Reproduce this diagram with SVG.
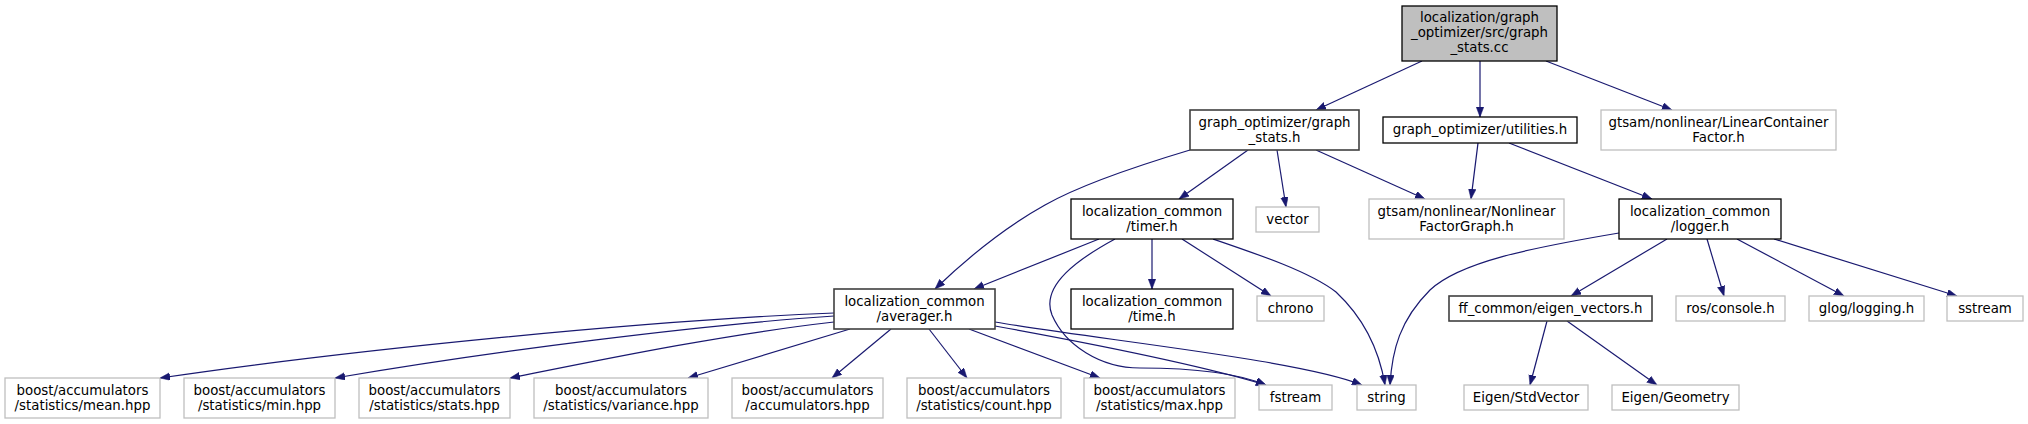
<svg xmlns="http://www.w3.org/2000/svg" width="2028" height="424" viewBox="0 0 2028 424">
<style>
text{font-family:"DejaVu Sans","Liberation Sans",sans-serif;font-size:13.33px;fill:#000;text-anchor:middle}
.n rect{fill:#fff;stroke:#000;stroke-width:1.3}
.n.d rect{stroke:#404040;stroke-width:1.6}
.n.x rect{stroke:#bfbfbf;stroke-width:1.3}
.n.r rect{fill:#bfbfbf;stroke:#000}
#edges path{fill:none;stroke:#191970;stroke-width:1.2}
</style>
<defs>
<marker id="ah" markerUnits="userSpaceOnUse" markerWidth="10" markerHeight="8" refX="10" refY="3.75" orient="auto">
<path d="M0,0 L10,3.75 L0,7.5 z" fill="#191970" stroke="#191970" stroke-width="0.5"/>
</marker>
</defs>
<rect width="2028" height="424" fill="#fff"/>
<g id="edges">
<path d="M1422,61 L1316,110" marker-end="url(#ah)"/>
<path d="M1480,61 L1480,117" marker-end="url(#ah)"/>
<path d="M1546,61 L1672,110" marker-end="url(#ah)"/>
<path d="M1190,150 C1140,165 1080,185 1045,205 C1000,230 960,265 935,289" marker-end="url(#ah)"/>
<path d="M1248,150 L1179,199" marker-end="url(#ah)"/>
<path d="M1277,150 L1286,207" marker-end="url(#ah)"/>
<path d="M1316,150 L1425,199" marker-end="url(#ah)"/>
<path d="M1478,143 L1471,199" marker-end="url(#ah)"/>
<path d="M1509,143 L1652,199" marker-end="url(#ah)"/>
<path d="M1099,239 L974,289" marker-end="url(#ah)"/>
<path d="M1152,239 L1152,289" marker-end="url(#ah)"/>
<path d="M1182,239 L1271,296" marker-end="url(#ah)"/>
<path d="M1213,239 C1260,255 1310,272 1336,292 C1366,320 1380,355 1385,385" marker-end="url(#ah)"/>
<path d="M1115,239 C1080,258 1040,285 1052,315 C1065,345 1100,368 1140,368 C1180,368 1230,370 1266,385" marker-end="url(#ah)"/>
<path d="M1619,233 C1530,248 1460,262 1430,290 C1400,320 1392,350 1390,385" marker-end="url(#ah)"/>
<path d="M834,313 C650,320 350,350 160,378" marker-end="url(#ah)"/>
<path d="M834,316 C700,325 500,350 335,378" marker-end="url(#ah)"/>
<path d="M834,322 C720,335 600,360 510,378" marker-end="url(#ah)"/>
<path d="M850,329 L688,378" marker-end="url(#ah)"/>
<path d="M891,329 L832,378" marker-end="url(#ah)"/>
<path d="M929,329 L967,378" marker-end="url(#ah)"/>
<path d="M969,329 L1100,378" marker-end="url(#ah)"/>
<path d="M995,322 C1100,340 1300,360 1362,385" marker-end="url(#ah)"/>
<path d="M995,326 C1100,345 1200,365 1266,385" marker-end="url(#ah)"/>
<path d="M1667,239 L1571,296" marker-end="url(#ah)"/>
<path d="M1707,239 L1724,296" marker-end="url(#ah)"/>
<path d="M1737,239 L1844,296" marker-end="url(#ah)"/>
<path d="M1774,239 L1957,296" marker-end="url(#ah)"/>
<path d="M1547,321 L1530,385" marker-end="url(#ah)"/>
<path d="M1567,321 L1657,385" marker-end="url(#ah)"/>
</g>
<g id="root" class="n r"><rect x="1402" y="6" width="155" height="55"/><text x="1479.5" y="22">localization/graph</text><text x="1479.5" y="37">_optimizer/src/graph</text><text x="1479.5" y="52">_stats.cc</text></g>
<g id="graph_stats_h" class="n d"><rect x="1190" y="110" width="169" height="40"/><text x="1274.5" y="126.5">graph_optimizer/graph</text><text x="1274.5" y="141.5">_stats.h</text></g>
<g id="utilities_h" class="n"><rect x="1383" y="117" width="194" height="26"/><text x="1480" y="134">graph_optimizer/utilities.h</text></g>
<g id="linear_container" class="n x"><rect x="1601" y="110" width="235" height="40"/><text x="1718.5" y="126.5">gtsam/nonlinear/LinearContainer</text><text x="1718.5" y="141.5">Factor.h</text></g>
<g id="timer_h" class="n"><rect x="1071" y="199" width="162" height="40"/><text x="1152" y="215.5">localization_common</text><text x="1152" y="230.5">/timer.h</text></g>
<g id="vector" class="n x"><rect x="1256" y="207" width="63" height="25"/><text x="1287.5" y="223.5">vector</text></g>
<g id="nonlinear_fg" class="n x"><rect x="1369" y="199" width="195" height="40"/><text x="1466.5" y="215.5">gtsam/nonlinear/Nonlinear</text><text x="1466.5" y="230.5">FactorGraph.h</text></g>
<g id="logger_h" class="n"><rect x="1619" y="199" width="162" height="40"/><text x="1700" y="215.5">localization_common</text><text x="1700" y="230.5">/logger.h</text></g>
<g id="averager_h" class="n d"><rect x="834" y="289" width="161" height="40"/><text x="914.5" y="305.5">localization_common</text><text x="914.5" y="320.5">/averager.h</text></g>
<g id="time_h" class="n"><rect x="1071" y="289" width="162" height="40"/><text x="1152" y="305.5">localization_common</text><text x="1152" y="320.5">/time.h</text></g>
<g id="chrono" class="n x"><rect x="1257" y="296" width="67" height="25"/><text x="1290.5" y="312.5">chrono</text></g>
<g id="eigen_vectors_h" class="n d"><rect x="1449" y="296" width="203" height="25"/><text x="1550.5" y="312.5">ff_common/eigen_vectors.h</text></g>
<g id="ros_console" class="n x"><rect x="1676" y="296" width="109" height="25"/><text x="1730.5" y="312.5">ros/console.h</text></g>
<g id="glog" class="n x"><rect x="1809" y="296" width="115" height="25"/><text x="1866.5" y="312.5">glog/logging.h</text></g>
<g id="sstream" class="n x"><rect x="1947" y="296" width="76" height="25"/><text x="1985" y="312.5">sstream</text></g>
<g id="fstream" class="n x"><rect x="1259" y="385" width="73" height="25"/><text x="1295.5" y="401.5">fstream</text></g>
<g id="string" class="n x"><rect x="1357" y="385" width="59" height="25"/><text x="1386.5" y="401.5">string</text></g>
<g id="stdvector" class="n x"><rect x="1464" y="385" width="124" height="25"/><text x="1526" y="401.5">Eigen/StdVector</text></g>
<g id="geometry" class="n x"><rect x="1612" y="385" width="127" height="25"/><text x="1675.5" y="401.5">Eigen/Geometry</text></g>
<g id="mean" class="n x"><rect x="5" y="378" width="155" height="40"/><text x="82.5" y="394.5">boost/accumulators</text><text x="82.5" y="409.5">/statistics/mean.hpp</text></g>
<g id="min" class="n x"><rect x="184" y="378" width="151" height="40"/><text x="259.5" y="394.5">boost/accumulators</text><text x="259.5" y="409.5">/statistics/min.hpp</text></g>
<g id="stats" class="n x"><rect x="359" y="378" width="151" height="40"/><text x="434.5" y="394.5">boost/accumulators</text><text x="434.5" y="409.5">/statistics/stats.hpp</text></g>
<g id="variance" class="n x"><rect x="534" y="378" width="174" height="40"/><text x="621" y="394.5">boost/accumulators</text><text x="621" y="409.5">/statistics/variance.hpp</text></g>
<g id="accumulators" class="n x"><rect x="732" y="378" width="151" height="40"/><text x="807.5" y="394.5">boost/accumulators</text><text x="807.5" y="409.5">/accumulators.hpp</text></g>
<g id="count" class="n x"><rect x="907" y="378" width="154" height="40"/><text x="984" y="394.5">boost/accumulators</text><text x="984" y="409.5">/statistics/count.hpp</text></g>
<g id="max" class="n x"><rect x="1084" y="378" width="151" height="40"/><text x="1159.5" y="394.5">boost/accumulators</text><text x="1159.5" y="409.5">/statistics/max.hpp</text></g>
</svg>
